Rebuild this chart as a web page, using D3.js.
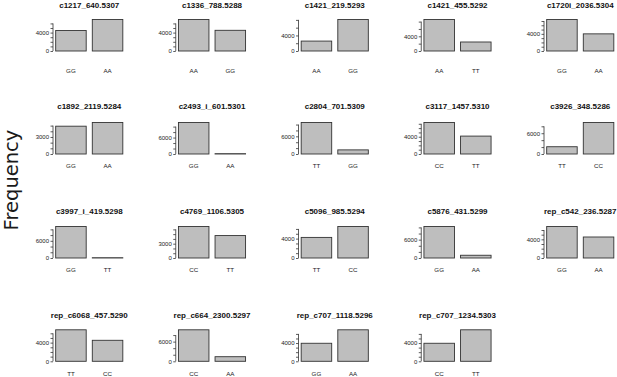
<!DOCTYPE html>
<html><head><meta charset="utf-8">
<script src="https://cdnjs.cloudflare.com/ajax/libs/d3/7.8.5/d3.min.js"></script>
<style>
html,body{margin:0;padding:0;background:#fff;}
svg{display:block;}
</style></head>
<body>
<script>
// ---- data ----
const titles = ["c1217_640.5307","c1336_788.5288","c1421_219.5293","c1421_455.5292","c1720i_2036.5304",
  "c1892_2119.5284","c2493_i_601.5301","c2804_701.5309","c3117_1457.5310","c3926_348.5286",
  "c3997_i_419.5298","c4769_1106.5305","c5096_985.5294","c5876_431.5299","rep_c542_236.5287",
  "rep_c6068_457.5290","rep_c664_2300.5297","rep_c707_1118.5296","rep_c707_1234.5303"];
const cat1 = ["GG","AA","AA","AA","GG", "GG","GG","TT","CC","TT", "GG","CC","TT","GG","GG", "TT","CC","GG","CC"];
const cat2 = ["AA","GG","GG","TT","AA", "AA","AA","GG","TT","CC", "TT","TT","CC","AA","AA", "CC","AA","AA","TT"];
const val1 = [4450,6850,2550,8570,7350, 4900,11500,10700,7300,2100, 11000,6600,4250,10300,6750, 6750,9600,3950,3950];
const val2 = [6850,4500,8100,2450,4000, 5550,120,1400,4150,9100, 100,4700,6500,900,4500, 4500,1400,6900,6900];
const tickStep = [1000,1000,2000,2000,1000, 1000,2000,2000,1000,2000, 2000,1000,1000,2000,1000, 1000,2000,1000,1000];
const tickLabels = [[0,4000],[0,4000],[0,4000],[0,4000],[0,4000],
  [0,3000],[0,6000],[0,6000],[0,4000],[0,6000],
  [0,6000],[0,3000],[0,4000],[0,6000],[0,4000],
  [0,4000],[0,6000],[0,4000],[0,4000]];
const yTitle = "Frequency";

// ---- layout ----
const W = 617, H = 377;
const nCols = 5;
const colX0 = 53, colStep = 122.75, plotW = 72.5;
const rowZero = [51, 154, 258, 361.3];
const rowTitle = [7.5, 109, 214, 318];
const rowLabel = [73, 168, 272, 376];
const barH = 31.5;

const svg = d3.select("body").append("svg").attr("width", W).attr("height", H);

svg.append("text")
  .attr("transform", "translate(18,180) rotate(-90)")
  .attr("text-anchor", "middle")
  .attr("font-family", "DejaVu Sans")
  .attr("font-size", 19.5)
  .attr("fill", "#1a1a1a")
  .text(yTitle);

titles.forEach((t, i) => {
  const r = Math.floor(i / nCols), c = i % nCols;
  const ax = colX0 + c * colStep;
  const z = rowZero[r];
  const cats = [cat1[i], cat2[i]];
  const vals = [val1[i], val2[i]];
  const vmax = d3.max(vals);

  const x = d3.scaleBand().domain(cats).range([ax, ax + plotW])
    .paddingInner(1/6).paddingOuter(0.0733);
  const y = d3.scaleLinear().domain([0, vmax]).range([z, z - barH]);

  const g = svg.append("g");

  g.append("text")
    .attr("x", ax + plotW / 2).attr("y", rowTitle[r])
    .attr("text-anchor", "middle")
    .attr("font-family", "Liberation Sans, Arial, sans-serif")
    .attr("font-weight", "bold")
    .attr("font-size", 8)
    .attr("fill", "#111")
    .text(t);

  g.selectAll("rect").data(cats).join("rect")
    .attr("x", d => x(d))
    .attr("width", x.bandwidth())
    .attr("y", (d, k) => y(vals[k]))
    .attr("height", (d, k) => z - y(vals[k]))
    .attr("fill", "#bebebe")
    .attr("stroke", "#333")
    .attr("stroke-width", 0.9);

  const ticks = d3.range(0, vmax + 1, tickStep[i]);
  const axis = d3.axisLeft(y).tickValues(ticks).tickSize(2.5).tickPadding(1.5)
    .tickFormat(d => tickLabels[i].includes(d) ? String(d) : "");
  const ag = g.append("g").attr("transform", `translate(${ax},0)`).call(axis);
  ag.select(".domain").attr("d", `M0,${y(0)}V${y(ticks[ticks.length-1])}`)
    .attr("stroke", "#333").attr("stroke-width", 0.8);
  ag.selectAll(".tick line").attr("stroke", "#333").attr("stroke-width", 0.8);
  ag.selectAll(".tick text").attr("font-family", "Liberation Sans, Arial, sans-serif")
    .attr("font-size", 6).attr("fill", "#222");

  g.selectAll("text.xl").data(cats).join("text").attr("class", "xl")
    .attr("x", d => x(d) + x.bandwidth() / 2)
    .attr("y", rowLabel[r])
    .attr("text-anchor", "middle")
    .attr("font-family", "Liberation Sans, Arial, sans-serif")
    .attr("font-size", 6.2)
    .attr("fill", "#222")
    .text(d => d);
});
</script>
</body></html>
